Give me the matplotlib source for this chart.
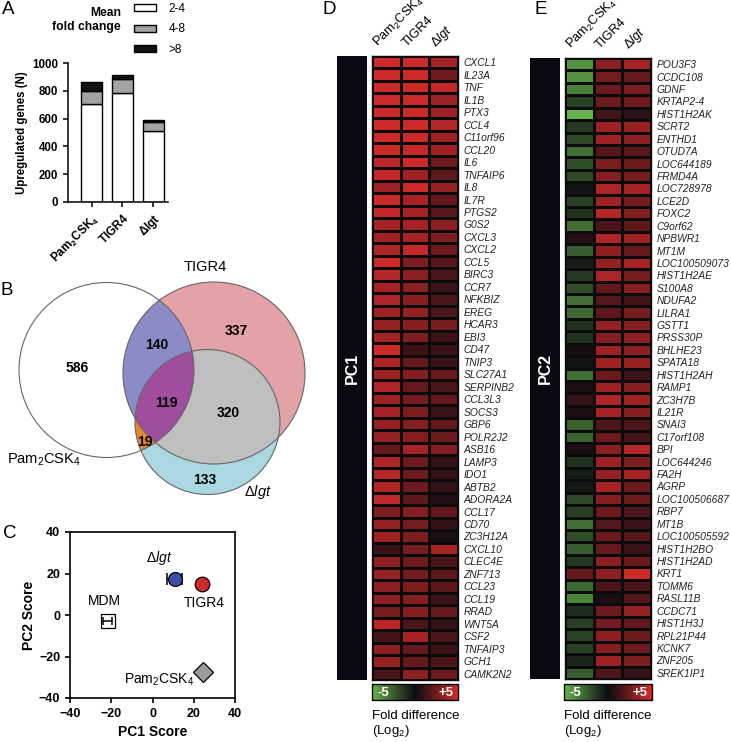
import numpy as np
import matplotlib
matplotlib.use("Agg")
import matplotlib.pyplot as plt
from matplotlib.patches import Circle, Polygon
from matplotlib.colors import LinearSegmentedColormap

plt.rcParams["font.family"] = ["Liberation Sans", "DejaVu Sans"]
plt.rcParams["mathtext.fontset"] = "custom"
plt.rcParams["mathtext.rm"] = "Liberation Sans"
plt.rcParams["mathtext.it"] = "Liberation Sans:italic"
plt.rcParams["mathtext.bf"] = "Liberation Sans:bold"

# ---- data -------------------------------------------------------------
# A: upregulated genes per stimulus, split by mean fold change
stimuli = ["Pam2CSK4", "TIGR4", "dlgt"]
fc_2_4 = [705, 785, 510]
fc_4_8 = [95, 98, 62]
fc_gt8 = [64, 33, 19]

# B: Venn counts
venn_keys = ["pam", "pam_tigr4", "tigr4", "all", "tigr4_dlgt", "pam_dlgt", "dlgt"]
venn_counts = [586, 140, 337, 119, 320, 19, 133]

# C: PCA scores
pca_names = ["MDM", "dlgt", "TIGR4", "Pam2CSK4"]
pca_pc1 = [-21.8, 10.7, 24.2, 24.4]
pca_pc2 = [-2.8, 17.3, 14.9, -27.3]
pca_pc1_err = [2.0, 3.6, 0.0, 0.0]

# D: PC1 genes (log2 fold difference)
pc1_genes = ["CXCL1", "IL23A", "TNF", "IL1B", "PTX3", "CCL4", "C11orf96", "CCL20", "IL6",
             "TNFAIP6", "IL8", "IL7R", "PTGS2", "G0S2", "CXCL3", "CXCL2", "CCL5", "BIRC3",
             "CCR7", "NFKBIZ", "EREG", "HCAR3", "EBI3", "CD47", "TNIP3", "SLC27A1",
             "SERPINB2", "CCL3L3", "SOCS3", "GBP6", "POLR2J2", "ASB16", "LAMP3", "IDO1",
             "ABTB2", "ADORA2A", "CCL17", "CD70", "ZC3H12A", "CXCL10", "CLEC4E", "ZNF713",
             "CCL23", "CCL19", "RRAD", "WNT5A", "CSF2", "TNFAIP3", "GCH1", "CAMK2N2"]
pc1_pam = [4.8, 4.8, 4.8, 4.8, 4.8, 4.8, 4.8, 4.8, 4.3, 4.6, 3.6, 4.8, 4.6, 3.8, 3.6, 4.0,
           4.8, 4.2, 3.8, 4.0, 3.6, 3.4, 3.8, 4.8, 4.0, 3.6, 4.0, 3.6, 3.8, 3.4, 3.4, 2.2,
           4.0, 4.2, 4.0, 4.4, 2.8, 3.4, 3.6, 1.2, 3.2, 3.4, 3.2, 3.2, 2.6, 4.4, 1.4, 3.2,
           3.4, 1.6]
pc1_tigr4 = [4.8, 4.8, 4.8, 4.8, 4.8, 4.8, 4.8, 4.6, 4.8, 3.6, 4.8, 3.8, 3.8, 3.8, 3.8, 4.6,
             2.8, 3.2, 3.2, 3.0, 3.4, 3.0, 2.8, 1.2, 2.2, 3.0, 2.2, 2.6, 2.8, 3.0, 3.0, 3.8,
             2.4, 2.4, 2.4, 2.0, 3.0, 2.6, 2.8, 2.6, 2.4, 2.6, 2.8, 3.0, 3.0, 1.6, 3.8, 2.2,
             2.2, 3.2]
pc1_dlgt = [3.8, 2.5, 4.6, 3.6, 3.6, 4.2, 3.6, 3.6, 2.4, 2.0, 3.4, 2.2, 1.8, 3.2, 2.8, 2.4,
            1.8, 1.6, 1.2, 1.6, 1.6, 2.6, 1.2, 1.2, 1.2, 2.4, 1.6, 2.2, 1.2, 2.2, 2.4, 3.0,
            1.0, 1.0, 1.0, 0.5, 2.2, 1.0, 0.4, 3.8, 1.6, 2.0, 2.0, 1.2, 2.2, 1.0, 1.6, 1.2,
            1.6, 2.4]

# E: PC2 genes
pc2_genes = ["POU3F3", "CCDC108", "GDNF", "KRTAP2-4", "HIST1H2AK", "SCRT2", "ENTHD1", "OTUD7A",
             "LOC644189", "FRMD4A", "LOC728978", "LCE2D", "FOXC2", "C9orf62", "NPBWR1", "MT1M",
             "LOC100509073", "HIST1H2AE", "S100A8", "NDUFA2", "LILRA1", "GSTT1", "PRSS30P",
             "BHLHE23", "SPATA18", "HIST1H2AH", "RAMP1", "ZC3H7B", "IL21R", "SNAI3",
             "C17orf108", "BPI", "LOC644246", "FA2H", "AGRP", "LOC100506687", "RBP7", "MT1B",
             "LOC100505592", "HIST1H2BO", "HIST1H2AD", "KRT1", "TOMM6", "RASL11B", "CCDC71",
             "HIST1H3J", "RPL21P44", "KCNK7", "ZNF205", "SREK1IP1"]
pc2_pam = [-4.0, -4.0, -3.4, -1.6, -5.0, -1.4, -1.8, -3.0, -2.0, -1.8, -0.3, -1.6, -1.2, -3.0,
           0.6, -2.4, -0.6, -1.4, -2.0, -3.0, -2.8, -1.2, -1.2, 0.3, -0.3, -3.0, 0.4, 1.0,
           0.4, -2.6, -2.6, 0.4, -1.2, -0.6, -0.4, -1.8, -1.6, -3.0, -2.0, -2.4, -1.4, 2.2,
           -2.8, -3.6, -1.0, -1.6, -1.6, -1.6, -0.8, -2.4]
pc2_tigr4 = [3.2, 2.6, 2.4, 2.4, 1.4, 3.6, 3.6, 1.8, 2.8, 3.0, 4.0, 3.6, 4.2, 1.6, 4.0, 3.2,
             3.4, 4.0, 2.2, 1.8, 2.0, 3.4, 3.0, 3.6, 3.6, 2.4, 3.6, 4.0, 3.8, 1.6, 2.4, 3.2,
             3.6, 3.4, 3.8, 3.0, 2.4, 1.8, 2.4, 2.2, 3.2, 3.2, 1.6, 0.4, 2.4, 2.6, 3.2, 3.0,
             3.6, 1.6]
pc2_dlgt = [3.8, 2.2, 2.8, 2.4, 0.8, 3.4, 3.2, 2.0, 2.4, 2.6, 3.8, 2.6, 3.0, 2.0, 3.6, 2.2,
            3.8, 2.6, 3.0, 1.4, 2.6, 3.0, 3.2, 3.2, 3.4, 1.2, 3.0, 3.6, 3.0, 1.6, 1.4, 4.2,
            2.8, 3.8, 2.4, 2.4, 1.6, 1.2, 1.8, 1.2, 2.4, 4.8, 1.6, 1.8, 3.4, 2.2, 2.4, 2.4,
            2.8, 1.0]

# ---- labels ----------------------------------------------------------
PAM = r"Pam$_2$CSK$_4$"
PAM_B = r"$\mathbf{Pam}_\mathbf{2}\mathbf{CSK}_\mathbf{4}$"
DLGT = r"$\Delta\mathit{lgt}$"
DLGT_B = r"$\mathbf{\Delta lgt}$"
NAMES = {"Pam2CSK4": PAM, "TIGR4": "TIGR4", "dlgt": DLGT, "MDM": "MDM"}

W, H = 731, 742
fig = plt.figure(figsize=(W / 100, H / 100), dpi=100)


def px_axes(x0, y0, x1, y1):
    return fig.add_axes([x0 / W, 1 - y1 / H, (x1 - x0) / W, (y1 - y0) / H])


def ftext(x, y, s, **kw):
    return fig.text(x / W, 1 - y / H, s, **kw)


for letter, (x, y) in {"A": (2, 10), "B": (1, 290), "C": (3, 534), "D": (323, 10), "E": (534, 10)}.items():
    ftext(x, y, letter, fontsize=13.5, va="center", ha="left")

# ---- A: stacked bars ---------------------------------------------------
ax = px_axes(68, 63, 168, 202)
x = np.arange(len(stimuli))
low = np.array(fc_2_4)
mid = np.array(fc_4_8)
high = np.array(fc_gt8)
b1 = ax.bar(x, low, width=0.68, color="white", edgecolor="black", linewidth=1)
b2 = ax.bar(x, mid, bottom=low, width=0.68, color="#a3a3a3", edgecolor="black", linewidth=1)
b3 = ax.bar(x, high, bottom=low + mid, width=0.68, color="#111111", edgecolor="black", linewidth=1)
ax.set_xlim(-0.77, 2.48)
ax.set_ylim(0, 1000)
ax.set_yticks(np.arange(0, 1001, 200))
ax.set_xticks(x)
ax.set_xticklabels([PAM_B, r"$\mathbf{TIGR4}$", DLGT_B], rotation=45, ha="right",
                   rotation_mode="anchor", fontsize=8.5)
ax.tick_params(axis="y", labelsize=8.3)
for lab in ax.get_yticklabels():
    lab.set_fontweight("bold")
ax.tick_params(width=1.1, length=3.5)
ax.set_ylabel("Upregulated genes (N)", fontsize=8.3, fontweight="bold", labelpad=3)
for s in ["top", "right"]:
    ax.spines[s].set_visible(False)
for s in ["left", "bottom"]:
    ax.spines[s].set_linewidth(1.1)

fig.legend([b1, b2, b3], ["2-4", "4-8", ">8"], loc="upper left",
           bbox_to_anchor=(134 / W, 1 - 3 / H), bbox_transform=fig.transFigure,
           frameon=False, fontsize=8.5, handlelength=1.9, handleheight=0.55,
           labelspacing=0.72, handletextpad=1.0, borderpad=0, borderaxespad=0)
ftext(121, 13, "Mean", fontsize=8.7, fontweight="bold", ha="right", va="center")
ftext(121, 27, "fold change", fontsize=8.7, fontweight="bold", ha="right", va="center")

# ---- B: Venn ---------------------------------------------------------
vax = px_axes(0, 250, 320, 512)
vax.set_xlim(0, 320)
vax.set_ylim(512, 250)
vax.axis("off")

circ = {"pam": (106.5, 370, 87.5), "tigr4": (214, 373, 91), "dlgt": (207.5, 422, 72.5)}


def ring(c, n=720):
    t = np.linspace(0, 2 * np.pi, n, endpoint=False)
    return np.column_stack([c[0] + c[2] * np.cos(t), c[1] + c[2] * np.sin(t)])


def overlap(*cs):
    pts = []
    for i, c in enumerate(cs):
        p = ring(c)
        keep = np.ones(len(p), bool)
        for j, o in enumerate(cs):
            if j != i:
                keep &= np.hypot(p[:, 0] - o[0], p[:, 1] - o[1]) <= o[2] + 1e-6
        pts.append(p[keep])
    pts = np.vstack(pts)
    cen = pts.mean(axis=0)
    order = np.argsort(np.arctan2(pts[:, 1] - cen[1], pts[:, 0] - cen[0]))
    return pts[order]


vax.add_patch(Circle(circ["pam"][:2], circ["pam"][2], facecolor="white", edgecolor="none"))
vax.add_patch(Circle(circ["tigr4"][:2], circ["tigr4"][2], facecolor="#e3a2a5", edgecolor="none"))
vax.add_patch(Circle(circ["dlgt"][:2], circ["dlgt"][2], facecolor="#a9d8e1", edgecolor="none"))
vax.add_patch(Polygon(overlap(circ["pam"], circ["tigr4"]), facecolor="#8b8bc7", edgecolor="none"))
vax.add_patch(Polygon(overlap(circ["pam"], circ["dlgt"]), facecolor="#e4882c", edgecolor="none"))
vax.add_patch(Polygon(overlap(circ["tigr4"], circ["dlgt"]), facecolor="#bfbfbf", edgecolor="none"))
vax.add_patch(Polygon(overlap(circ["pam"], circ["tigr4"], circ["dlgt"]), facecolor="#a04d9d",
                      edgecolor="none"))
for k, c in circ.items():
    vax.add_patch(Circle(c[:2], c[2], facecolor="none", edgecolor="#666666", linewidth=0.8))

venn_pos = {"pam": (77, 368), "pam_tigr4": (157, 345), "tigr4": (236, 331), "all": (166, 403),
            "tigr4_dlgt": (228, 413), "pam_dlgt": (145, 442), "dlgt": (205, 480)}
for k, n in zip(venn_keys, venn_counts):
    vax.text(*venn_pos[k], str(n), fontsize=10, fontweight="bold", ha="center", va="center")
vax.text(205, 267, "TIGR4", fontsize=10.5, ha="center", va="center")
vax.text(7, 460, PAM, fontsize=10.5, ha="left", va="center")
vax.text(258, 492, DLGT, fontsize=10.5, ha="center", va="center")

# ---- C: PCA ------------------------------------------------------------
cax = px_axes(70, 532, 235, 698)
styles = {"MDM": dict(marker="s", mfc="white", ms=9.5),
          "dlgt": dict(marker="o", mfc="#3b4fa6", ms=10),
          "TIGR4": dict(marker="o", mfc="#d12a2a", ms=10.5),
          "Pam2CSK4": dict(marker="D", mfc="#9b9b9b", ms=10)}
for name, px_, py_, ex in zip(pca_names, pca_pc1, pca_pc2, pca_pc1_err):
    st = styles[name]
    cax.plot(px_, py_, linestyle="none", marker=st["marker"], markerfacecolor=st["mfc"],
             markeredgecolor="black", markersize=st["ms"], markeredgewidth=0.9, zorder=3)
    if ex > 0:
        cap = 2.8 if name == "MDM" else 4.2
        z = 4 if name == "MDM" else 2
        cax.errorbar(px_, py_, xerr=ex, fmt="none", ecolor="black", elinewidth=1.1,
                     capsize=cap, capthick=1.1, zorder=z)
label_pos = {"MDM": (-23.5, 6.8), "dlgt": (3.4, 27.5), "TIGR4": (24.9, 5.8), "Pam2CSK4": (3, -31.3)}
for name in pca_names:
    cax.text(*label_pos[name], NAMES[name], fontsize=10, ha="center", va="center")
cax.set_xlim(-40, 40)
cax.set_ylim(-40, 40)
cax.set_xticks(np.arange(-40, 41, 20))
cax.set_yticks(np.arange(-40, 41, 20))
cax.tick_params(labelsize=9, width=1.2, length=3.5)
for lab in cax.get_xticklabels() + cax.get_yticklabels():
    lab.set_fontweight("bold")
for s in cax.spines.values():
    s.set_linewidth(1.2)
cax.set_xlabel("PC1 Score", fontsize=10, fontweight="bold", labelpad=4)
cax.set_ylabel("PC2 Score", fontsize=10, fontweight="bold", labelpad=2)

# ---- D / E: heatmaps -------------------------------------------------
cmap = LinearSegmentedColormap.from_list(
    "gkr", [(0.0, "#66b24c"), (0.5, "#0b0b10"), (1.0, "#d52b2b")])
col_labels = [PAM, "TIGR4", DLGT]


def heat(x0, x1, y0, y1, bar_x0, bar_x1, genes, cols, pc_name, cb_x0, cb_x1):
    bar = px_axes(bar_x0, y0, bar_x1, y1)
    bar.set_facecolor("#0a0a12")
    bar.set_xticks([])
    bar.set_yticks([])
    for s in bar.spines.values():
        s.set_visible(False)
    bar.text(0.5, 0.5, pc_name, transform=bar.transAxes, rotation=90, color="white",
             fontsize=11.5, fontweight="bold", ha="center", va="center")

    hx = px_axes(x0, y0, x1, y1)
    vals = np.column_stack(cols)
    mesh = hx.pcolormesh(vals, cmap=cmap, vmin=-5, vmax=5, edgecolors="#0b0b0b", linewidth=1.0)
    hx.set_xlim(0, vals.shape[1])
    hx.set_ylim(vals.shape[0], 0)
    hx.set_xticks([])
    hx.yaxis.tick_right()
    hx.set_yticks(np.arange(len(genes)) + 0.5)
    hx.set_yticklabels(genes, fontsize=7.4, fontstyle="italic", color="#222222")
    hx.tick_params(axis="y", length=0, pad=4)
    for s in hx.spines.values():
        s.set_color("#0b0b0b")
        s.set_linewidth(1.0)
    for j, lab in enumerate(col_labels):
        hx.text(j + 0.22, -0.7, lab, rotation=45, rotation_mode="anchor", ha="left",
                va="baseline", fontsize=9.3)

    cb_ax = px_axes(cb_x0, 684, cb_x1, 700)
    cb = fig.colorbar(mesh, cax=cb_ax, orientation="horizontal")
    cb.set_ticks([])
    cb.outline.set_linewidth(1.0)
    cb_ax.text(0.06, 0.45, "-5", transform=cb_ax.transAxes, color="white", fontsize=9.5,
               fontweight="bold", ha="left", va="center")
    cb_ax.text(0.95, 0.45, "+5", transform=cb_ax.transAxes, color="white", fontsize=9.5,
               fontweight="bold", ha="right", va="center")
    ftext(cb_x0, 716, "Fold difference", fontsize=9.5, ha="left", va="center")
    ftext(cb_x0, 731, r"(Log$_2$)", fontsize=9.5, ha="left", va="center")


heat(372, 458, 56, 680, 337, 367, pc1_genes, [pc1_pam, pc1_tigr4, pc1_dlgt], "PC1", 372, 458)
heat(565, 651, 58, 679, 530, 560, pc2_genes, [pc2_pam, pc2_tigr4, pc2_dlgt], "PC2", 564, 652)

fig.savefig("out.png", dpi=100)
